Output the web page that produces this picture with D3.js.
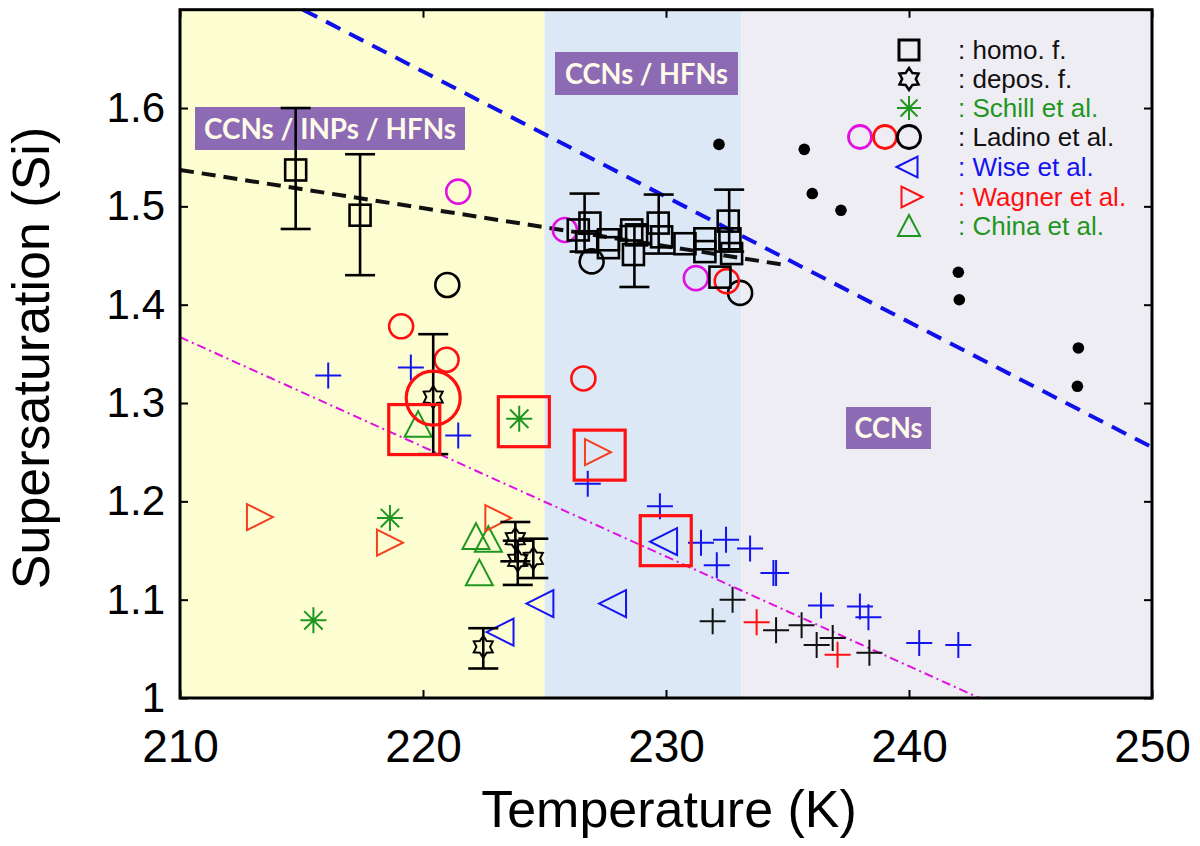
<!DOCTYPE html>
<html><head><meta charset="utf-8">
<script src="https://cdn.jsdelivr.net/npm/d3@7"></script>
<style>body{margin:0;background:#fff}svg{display:block}</style>
</head><body>
<svg id="c" width="1200" height="846"></svg>
<script>
// ---------- data ----------
const xTicks = [210, 220, 230, 240, 250];
const yTicks = [1, 1.1, 1.2, 1.3, 1.4, 1.5, 1.6];

const regionStart = [210, 225, 233.1];
const regionEnd   = [225, 233.1, 250];

const homoT = [214.76, 217.41, 226.39, 226.87, 226.74, 227.63, 227.63, 228.59, 228.79, 228.66, 229.68, 229.82, 230.78, 231.6, 231.6, 232.56, 232.63, 232.7, 232.22];
const homoS = [1.537, 1.491, 1.476, 1.483, 1.464, 1.466, 1.458, 1.476, 1.471, 1.451, 1.483, 1.469, 1.462, 1.467, 1.454, 1.485, 1.467, 1.452, 1.428];
const homoErrT  = [214.76, 217.41, 226.65, 228.7, 229.7, 232.6];
const homoErrLo = [1.477, 1.430, 1.454, 1.418, 1.452, 1.454];
const homoErrHi = [1.600, 1.553, 1.513, 1.480, 1.512, 1.517];

const deposT  = [220.42, 223.8, 223.9, 224.54, 222.48];
const deposS  = [1.306, 1.162, 1.140, 1.142, 1.052];
const deposLo = [1.248, 1.139, 1.115, 1.122, 1.030];
const deposHi = [1.370, 1.179, 1.160, 1.162, 1.071];

const schillT = [215.49, 218.64, 223.96];
const schillS = [1.079, 1.183, 1.284];

const ladinoBlackT = [221.0, 226.94, 233.05];
const ladinoBlackS = [1.420, 1.444, 1.412];
const ladinoRedT = [219.1, 220.97, 226.6, 232.5];
const ladinoRedS = [1.378, 1.344, 1.325, 1.424];
const ladinoMagT = [221.45, 225.84, 231.23];
const ladinoMagS = [1.515, 1.476, 1.427];
const bigCircleT = [220.42];
const bigCircleS = [1.305];

const wiseT = [224.81, 223.17, 227.8, 229.9];
const wiseS = [1.096, 1.067, 1.096, 1.159];
const wagnerT = [213.29, 218.64, 223.1, 227.2];
const wagnerS = [1.184, 1.158, 1.183, 1.25];
const chinaT = [219.8, 222.18, 222.69, 222.32];
const chinaS = [1.278, 1.164, 1.161, 1.127];

const highlightT = [219.64, 224.15, 227.27, 229.99];
const highlightS = [1.273, 1.281, 1.247, 1.160];

const bluePlusT = [216.1, 219.5, 221.45, 226.78, 229.75, 231.44, 232.47, 233.46, 232.09, 234.42, 234.53, 236.38, 237.98, 238.33, 240.42, 242.03];
const bluePlusS = [1.328, 1.336, 1.267, 1.218, 1.195, 1.158, 1.161, 1.152, 1.135, 1.127, 1.127, 1.094, 1.093, 1.082, 1.056, 1.054];
const blackPlusT = [232.74, 231.92, 234.53, 235.58, 236.2, 236.86, 238.37];
const blackPlusS = [1.100, 1.078, 1.069, 1.074, 1.054, 1.061, 1.046];
const redPlusT = [233.73, 237.06];
const redPlusS = [1.077, 1.044];

const dotT = [232.18, 235.69, 236.02, 237.2, 242.03, 242.07, 246.97, 246.93];
const dotS = [1.563, 1.558, 1.513, 1.496, 1.433, 1.405, 1.356, 1.317];

const blueLineT = [215.06, 250];
const blueLineS = [1.70, 1.255];
const blackLineT = [210, 235];
const blackLineS = [1.537, 1.44];
const magLineT = [210, 242.9];
const magLineS = [1.367, 1.0];

const legendLabels = [": homo. f.", ": depos. f.", ": Schill et al.", ": Ladino et al.", ": Wise et al.", ": Wagner et al.", ": China et al."];
const regionLabels = ["CCNs / INPs / HFNs", "CCNs / HFNs", "CCNs"];

// ---------- styles ----------
const C = {
  yellow: "#fdfdd2", blueBg: "#dce8f5", lav: "#efedf4",
  green: "#1f961f", blue: "#1414f0", red: "#ff1010", orange: "#f5401e",
  magenta: "#e010e0", purple: "#8d6bb4"
};

const svg = d3.select("#c");
const x = d3.scaleLinear().domain([210, 250]).range([180, 1152]);
const y = d3.scaleLinear().domain([1, 1.7]).range([698, 9.7]);
const zip = (a, b) => a.map((v, i) => [v, b[i]]);

// regions
const regionColors = [C.yellow, C.blueBg, C.lav];
svg.append("g").selectAll("rect").data(regionStart).join("rect")
  .attr("x", (d) => x(d)).attr("width", (d, i) => x(regionEnd[i]) - x(d))
  .attr("y", y(1.7)).attr("height", y(1) - y(1.7))
  .attr("fill", (d, i) => regionColors[i]);

// lines
const line = d3.line().x(d => x(d[0])).y(d => y(d[1]));
svg.append("path").attr("d", line(zip(magLineT, magLineS))).attr("fill", "none")
  .attr("stroke", C.magenta).attr("stroke-width", 2).attr("stroke-dasharray", "9 4 2 4");
svg.append("path").attr("d", line(zip(blackLineT, blackLineS))).attr("fill", "none")
  .attr("stroke", "#111").attr("stroke-width", 4).attr("stroke-dasharray", "14 8");
svg.append("path").attr("d", line(zip(blueLineT, blueLineS))).attr("fill", "none")
  .attr("stroke", "#1010e8").attr("stroke-width", 4).attr("stroke-dasharray", "16 10");

// region labels
const boxes = [[195, 107, 270, 43, 252], [555, 52, 183, 43, 163], [846, 407, 85, 42, 68]];
const lab = svg.append("g");
regionLabels.forEach((t, i) => {
  const b = boxes[i];
  lab.append("rect").attr("x", b[0]).attr("y", b[1]).attr("width", b[2]).attr("height", b[3]).attr("fill", C.purple);
  lab.append("text").attr("x", b[0] + b[2] / 2).attr("y", b[1] + b[3] / 2 + 10)
    .attr("text-anchor", "middle").attr("font-family", "Lato, 'Open Sans', sans-serif")
    .attr("font-weight", "bold").attr("font-size", 28).attr("fill", "#fffbea")
    .attr("textLength", b[4]).attr("lengthAdjust", "spacingAndGlyphs").text(t);
});

// marker shapes
function triPath(dir, s) {
  const h = s / 2;
  if (dir === "left") return `M${-h},0L${h},${-h}L${h},${h}Z`;
  if (dir === "right") return `M${h},0L${-h},${-h}L${-h},${h}Z`;
  return `M0,${-h}L${h},${h * 0.9}L${-h},${h * 0.9}Z`;
}
function starPath(r) {
  const ri = r * 0.62, pts = [];
  for (let k = 0; k < 12; k++) {
    const a = -Math.PI / 2 + k * Math.PI / 6, rr = k % 2 ? ri : r;
    pts.push([rr * Math.cos(a), rr * Math.sin(a)]);
  }
  return "M" + pts.map(p => p.join(",")).join("L") + "Z";
}
function plusPath(r) { return `M${-r},0H${r}M0,${-r}V${r}`; }
function astPath(r) {
  const d = r * 0.707;
  return `M${-r},0H${r}M0,${-r}V${r}M${-d},${-d}L${d},${d}M${-d},${d}L${d},${-d}`;
}

const g = svg.append("g");
function drawPaths(T, S, pathStr, stroke, sw, fill) {
  g.append("g").selectAll("path").data(zip(T, S)).join("path")
    .attr("transform", d => `translate(${x(d[0])},${y(d[1])})`)
    .attr("d", pathStr).attr("fill", fill || "none").attr("stroke", stroke).attr("stroke-width", sw);
}
function drawCircles(T, S, r, stroke, sw) {
  g.append("g").selectAll("circle").data(zip(T, S)).join("circle")
    .attr("cx", d => x(d[0])).attr("cy", d => y(d[1])).attr("r", r)
    .attr("fill", "none").attr("stroke", stroke).attr("stroke-width", sw);
}
function drawErr(T, lo, hi) {
  const e = g.append("g").attr("stroke", "#000").attr("stroke-width", 2.6);
  T.forEach((t, i) => {
    const cx = x(t);
    e.append("line").attr("x1", cx).attr("x2", cx).attr("y1", y(lo[i])).attr("y2", y(hi[i]));
    e.append("line").attr("x1", cx - 15).attr("x2", cx + 15).attr("y1", y(lo[i])).attr("y2", y(lo[i]));
    e.append("line").attr("x1", cx - 15).attr("x2", cx + 15).attr("y1", y(hi[i])).attr("y2", y(hi[i]));
  });
}

// pluses & dots
drawPaths(bluePlusT, bluePlusS, plusPath(13), C.blue, 2);
drawPaths(blackPlusT, blackPlusS, plusPath(13), "#111", 2);
drawPaths(redPlusT, redPlusS, plusPath(13), C.red, 2);
g.append("g").selectAll("circle").data(zip(dotT, dotS)).join("circle")
  .attr("cx", d => x(d[0])).attr("cy", d => y(d[1])).attr("r", 5.8).attr("fill", "#000");

// triangles & asterisks
drawPaths(chinaT, chinaS, triPath("up", 27), C.green, 2);
drawPaths(wagnerT, wagnerS, triPath("right", 26), C.orange, 2);
drawPaths(wiseT, wiseS, triPath("left", 27), C.blue, 2);
drawPaths(schillT, schillS, astPath(13), C.green, 2);
g.append("g").selectAll("circle").data(zip(schillT, schillS)).join("circle")
  .attr("cx", d => x(d[0])).attr("cy", d => y(d[1])).attr("r", 2).attr("fill", C.green);

// circles
drawCircles(ladinoMagT, ladinoMagS, 12, C.magenta, 2.6);
drawCircles(ladinoBlackT, ladinoBlackS, 12, "#000", 2.6);
drawCircles(ladinoRedT, ladinoRedS, 12, C.red, 2.6);

// error bars, homo squares, depos stars
drawErr(homoErrT, homoErrLo, homoErrHi);
drawErr(deposT, deposLo, deposHi);
g.append("g").selectAll("rect").data(zip(homoT, homoS)).join("rect")
  .attr("x", d => x(d[0]) - 10.5).attr("y", d => y(d[1]) - 10.5).attr("width", 21).attr("height", 21)
  .attr("fill", "none").attr("stroke", "#000").attr("stroke-width", 2.6);
drawPaths(deposT, deposS, starPath(11), "#000", 2);

// highlights
drawCircles(bigCircleT, bigCircleS, 27, C.red, 3.2);
g.append("g").selectAll("rect").data(zip(highlightT, highlightS)).join("rect")
  .attr("x", d => x(d[0]) - 25.5).attr("y", d => y(d[1]) - 25).attr("width", 51).attr("height", 50)
  .attr("fill", "none").attr("stroke", C.red).attr("stroke-width", 3.2);

// legend
const leg = svg.append("g");
const legY = [50, 79, 108, 137, 167, 197, 226];
const legColors = ["#111", "#111", C.green, "#111", C.blue, C.red, C.green];
const lx = 909;
leg.append("rect").attr("x", lx - 10).attr("y", legY[0] - 10).attr("width", 20).attr("height", 20)
  .attr("fill", "none").attr("stroke", "#000").attr("stroke-width", 3);
leg.append("path").attr("transform", `translate(${lx},${legY[1]})`).attr("d", starPath(11)).attr("fill", "none").attr("stroke", "#000").attr("stroke-width", 2.5);
leg.append("path").attr("transform", `translate(${lx},${legY[2]})`).attr("d", astPath(12)).attr("stroke", C.green).attr("stroke-width", 2);
[[lx - 49, C.magenta], [lx - 24, C.red], [lx, "#000"]].forEach(c =>
  leg.append("circle").attr("cx", c[0]).attr("cy", legY[3]).attr("r", 11.5).attr("fill", "none").attr("stroke", c[1]).attr("stroke-width", 2.8));
leg.append("path").attr("transform", `translate(${lx - 2},${legY[4]})`).attr("d", triPath("left", 21)).attr("fill", "none").attr("stroke", C.blue).attr("stroke-width", 2);
leg.append("path").attr("transform", `translate(${lx + 3},${legY[5]})`).attr("d", triPath("right", 21)).attr("fill", "none").attr("stroke", C.red).attr("stroke-width", 2);
leg.append("path").attr("transform", `translate(${lx},${legY[6]})`).attr("d", triPath("up", 22)).attr("fill", "none").attr("stroke", C.green).attr("stroke-width", 2);
leg.selectAll("text").data(legendLabels).join("text")
  .attr("x", 958).attr("y", (d, i) => legY[i] + 9)
  .attr("font-family", "'Liberation Sans', Arial, sans-serif").attr("font-size", 26)
  .attr("fill", (d, i) => legColors[i]).text(d => d);

// axes
const fmt = d => d === 1 ? "1" : d3.format(".1f")(d);
const axB = svg.append("g").attr("transform", "translate(0,698)")
  .call(d3.axisBottom(x).tickValues(xTicks).tickSize(-8).tickPadding(31).tickFormat(d3.format("d")));
const axT = svg.append("g").attr("transform", `translate(0,${y(1.7)})`)
  .call(d3.axisTop(x).tickValues(xTicks).tickSize(-8).tickFormat(""));
const axL = svg.append("g").attr("transform", "translate(180,0)")
  .call(d3.axisLeft(y).tickValues(yTicks).tickSize(-8).tickPadding(15).tickFormat(fmt));
const axR = svg.append("g").attr("transform", "translate(1152,0)")
  .call(d3.axisRight(y).tickValues(yTicks).tickSize(-8).tickFormat(""));
[axB, axT, axL, axR].forEach(a => {
  a.select(".domain").remove();
  a.selectAll(".tick line").attr("stroke", "#000").attr("stroke-width", 2);
});
axB.selectAll("text").attr("font-size", 46).attr("font-family", "'Liberation Sans', Arial, sans-serif").attr("fill", "#000");
axL.selectAll("text").attr("font-size", 42).attr("font-family", "'Liberation Sans', Arial, sans-serif").attr("fill", "#000");

svg.append("rect").attr("x", 180).attr("y", y(1.7)).attr("width", 972).attr("height", y(1) - y(1.7))
  .attr("fill", "none").attr("stroke", "#000").attr("stroke-width", 3);

svg.append("text").attr("x", 669).attr("y", 827).attr("text-anchor", "middle")
  .attr("font-family", "'Liberation Sans', Arial, sans-serif").attr("font-size", 52).text("Temperature (K)");
svg.append("text").attr("transform", "translate(49,358) rotate(-90)").attr("text-anchor", "middle")
  .attr("font-family", "'Liberation Sans', Arial, sans-serif").attr("font-size", 52).text("Supersaturation (Si)");
</script>
</body></html>
